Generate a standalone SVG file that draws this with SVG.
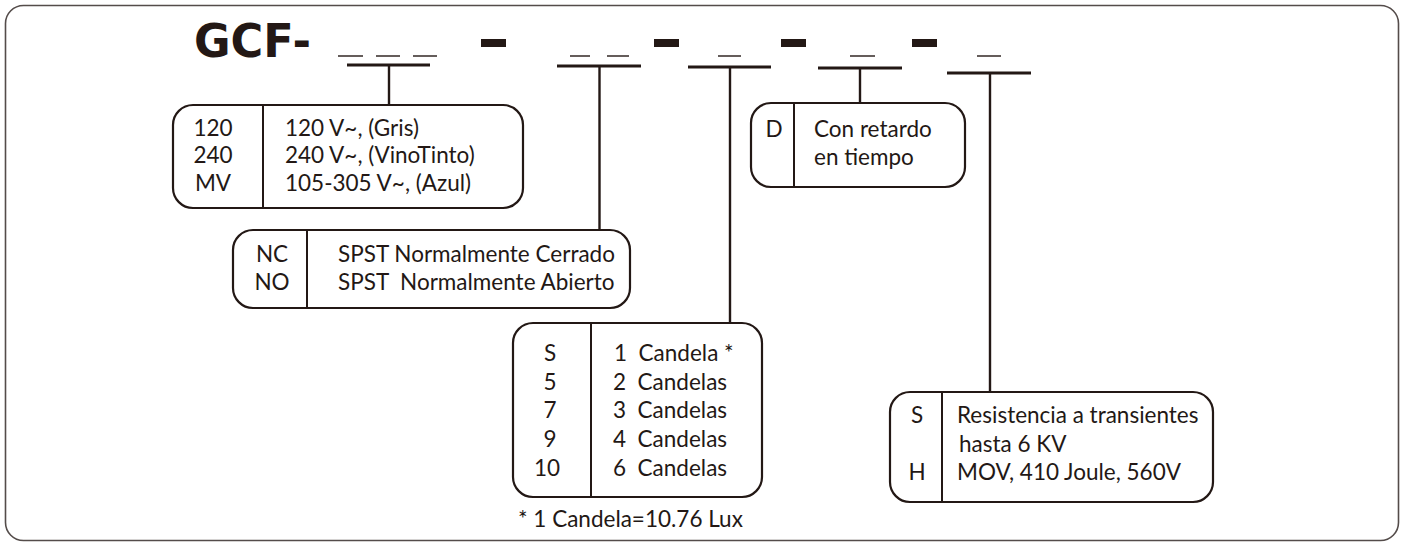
<svg xmlns="http://www.w3.org/2000/svg" width="1403" height="544" viewBox="0 0 1403 544">
<style>
.frame{fill:none;stroke:#544c4a;stroke-width:1.6}
.box{fill:#fff;stroke:#231815;stroke-width:2.2}
.div{stroke:#231815;stroke-width:2}
.bar{stroke:#231815;stroke-width:3.2}
.vl{stroke:#231815;stroke-width:2.4}
.us{stroke:#231815;stroke-width:1.4}
.dash{fill:#231815}
text{font-family:"Lato","Liberation Sans",sans-serif;font-size:22.5px;fill:#231815}
.c{text-anchor:middle}
.title{font-family:"DejaVu Sans","Liberation Sans",sans-serif;font-weight:bold;font-size:46px}
</style>
<rect class="frame" x="5.5" y="5.5" width="1393" height="535" rx="18"/>
<g id="header">
<text class="title" x="194" y="57" textLength="117" lengthAdjust="spacingAndGlyphs">GCF-</text>
<line class="us" x1="338" y1="56" x2="363" y2="56"/>
<line class="us" x1="376" y1="56" x2="400" y2="56"/>
<line class="us" x1="413" y1="56" x2="437" y2="56"/>
<rect class="dash" x="481" y="39" width="25" height="8"/>
<line class="us" x1="570" y1="56" x2="590" y2="56"/>
<line class="us" x1="607" y1="56" x2="629" y2="56"/>
<rect class="dash" x="654" y="39" width="25" height="8"/>
<line class="us" x1="718" y1="56" x2="741" y2="56"/>
<rect class="dash" x="781" y="39" width="25" height="8"/>
<line class="us" x1="850" y1="56" x2="875" y2="56"/>
<rect class="dash" x="912" y="39" width="25" height="8"/>
<line class="us" x1="977" y1="56" x2="1001" y2="56"/>
</g>
<g id="connectors">
<line class="bar" x1="347" y1="65" x2="430" y2="65"/>
<line class="vl" x1="389" y1="65" x2="389" y2="105"/>
<line class="bar" x1="557" y1="66" x2="641" y2="66"/>
<line class="vl" x1="599.5" y1="66" x2="599.5" y2="230"/>
<line class="bar" x1="688" y1="67" x2="771" y2="67"/>
<line class="vl" x1="730" y1="67" x2="730" y2="323"/>
<line class="bar" x1="818" y1="68" x2="902" y2="68"/>
<line class="vl" x1="860" y1="68" x2="860" y2="103"/>
<line class="bar" x1="947" y1="73" x2="1031" y2="73"/>
<line class="vl" x1="990" y1="73" x2="990" y2="392"/>
</g>
<g id="box-voltage">
<rect class="box" x="173" y="105" width="350" height="103" rx="20"/>
<line class="div" x1="263" y1="105" x2="263" y2="208"/>
<text class="c" x="213" y="136">120</text>
<text class="c" x="213" y="163">240</text>
<text class="c" x="213" y="191">MV</text>
<text x="285" y="136">120 V~, (Gris)</text>
<text x="285" y="163">240 V~, (VinoTinto)</text>
<text x="285" y="191">105-305 V~, (Azul)</text>
</g>
<g id="box-contact">
<rect class="box" x="233" y="230" width="397" height="78" rx="20"/>
<line class="div" x1="307" y1="230" x2="307" y2="308"/>
<text class="c" x="272" y="262">NC</text>
<text class="c" x="272" y="290">NO</text>
<text x="338" y="262">SPST Normalmente Cerrado</text>
<text x="338" y="290" xml:space="preserve">SPST  Normalmente Abierto</text>
</g>
<g id="box-candela">
<rect class="box" x="513" y="323" width="249" height="174" rx="20"/>
<line class="div" x1="591" y1="323" x2="591" y2="497"/>
<text class="c" x="550" y="361">S</text>
<text class="c" x="550" y="390">5</text>
<text class="c" x="550" y="418">7</text>
<text class="c" x="550" y="447">9</text>
<text class="c" x="547" y="476">10</text>
<text x="614" y="361" xml:space="preserve">1  Candela *</text>
<text x="613" y="390" xml:space="preserve">2  Candelas</text>
<text x="613" y="418" xml:space="preserve">3  Candelas</text>
<text x="613" y="447" xml:space="preserve">4  Candelas</text>
<text x="613" y="476" xml:space="preserve">6  Candelas</text>
</g>
<g id="footnote">
<text x="518" y="527">* 1 Candela=10.76 Lux</text>
</g>
<g id="box-delay">
<rect class="box" x="751" y="103" width="214" height="84" rx="20"/>
<line class="div" x1="794" y1="103" x2="794" y2="187"/>
<text class="c" x="774" y="137">D</text>
<text x="814" y="137">Con retardo</text>
<text x="814" y="165">en tiempo</text>
</g>
<g id="box-transient">
<rect class="box" x="890" y="392" width="323" height="110" rx="20"/>
<line class="div" x1="942" y1="392" x2="942" y2="502"/>
<text class="c" x="917" y="423">S</text>
<text x="957" y="423">Resistencia a transientes</text>
<text x="959" y="452">hasta 6 KV</text>
<text class="c" x="917" y="480">H</text>
<text x="957" y="480">MOV, 410 Joule, 560V</text>
</g>
</svg>
